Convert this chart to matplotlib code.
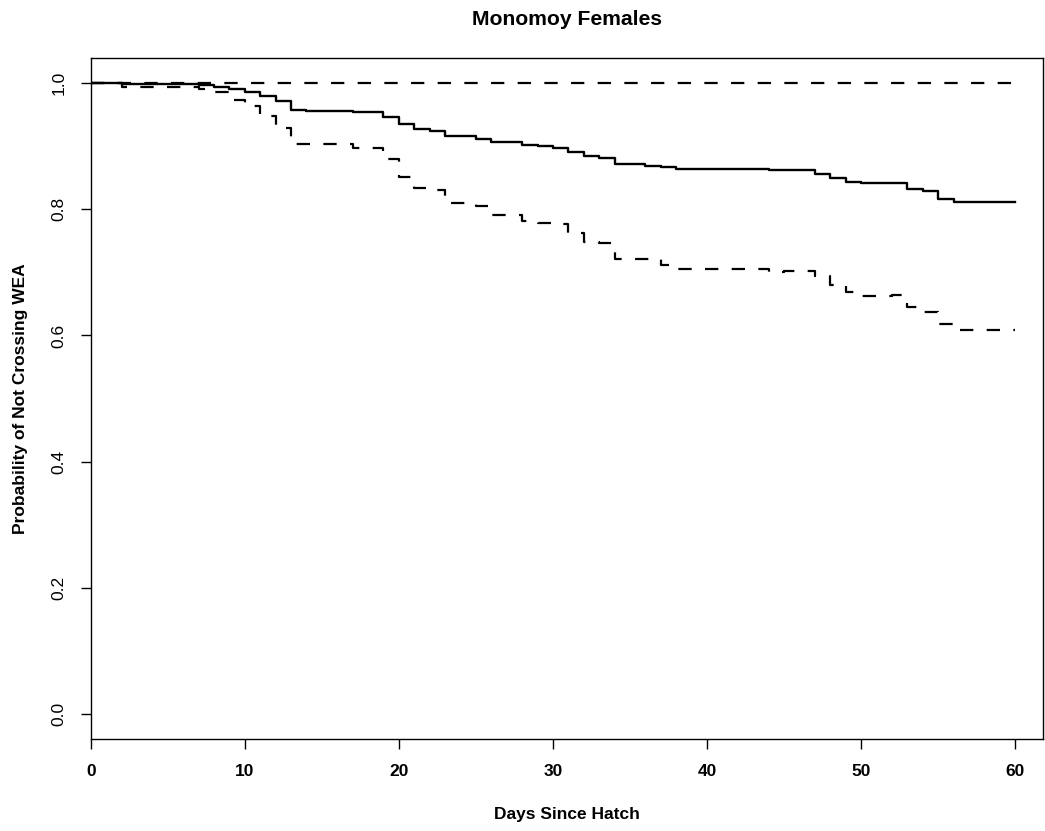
import matplotlib
matplotlib.use('Agg')
import matplotlib.pyplot as plt

# km estimate, Monomoy females
days = [0, 2, 7, 8, 9, 10, 11, 12, 13, 14, 17, 19, 20, 21, 22, 23, 25, 26, 28, 29,
        30, 31, 32, 33, 34, 36, 37, 38, 44, 45, 47, 48, 49, 50, 52, 53, 54, 55, 56, 60]
surv = [1.0, 0.9985, 0.997, 0.994, 0.991, 0.986, 0.980, 0.972, 0.958, 0.956, 0.9545, 0.9466,
        0.935, 0.927, 0.924, 0.916, 0.912, 0.906, 0.902, 0.900, 0.898, 0.891, 0.885, 0.882,
        0.8726, 0.8688, 0.8667, 0.8636, 0.862, 0.862, 0.8567, 0.8504, 0.844, 0.841, 0.841,
        0.833, 0.829, 0.817, 0.8117, 0.8117]
lower = [1.0, 0.994, 0.9916, 0.986, 0.974, 0.964, 0.948, 0.929, 0.9043, 0.903, 0.898, 0.8795,
         0.851, 0.8345, 0.8313, 0.810, 0.806, 0.7917, 0.7815, 0.779, 0.776, 0.763, 0.748,
         0.7466, 0.722, 0.7205, 0.711, 0.706, 0.7006, 0.7022, 0.694, 0.6806, 0.669, 0.6626,
         0.664, 0.645, 0.637, 0.618, 0.608, 0.608]
upper = [1.0] * len(days)

xticks = [0, 10, 20, 30, 40, 50, 60]
yticks = [0.0, 0.2, 0.4, 0.6, 0.8, 1.0]

plt.rcParams['font.family'] = ['Liberation Sans', 'DejaVu Sans']

fig = plt.figure(figsize=(10.45, 8.31), dpi=100)
ax = fig.add_axes([0.0868, 0.1107, 0.9112, 0.8195])

ax.step(days, surv, where='post', color='black', lw=1.7)
ax.step(days, lower, where='post', color='black', lw=1.6, ls=(0, (6, 6)))
ax.step(days, upper, where='post', color='black', lw=1.6, ls=(0, (6, 6)))

ax.set_xlim(0, 61.8)
ax.set_ylim(-0.04, 1.04)
ax.set_xticks(xticks)
ax.set_xticklabels([str(t) for t in xticks], fontweight='bold', fontsize=12.5)
ax.set_yticks(yticks)
ax.set_yticklabels(['%.1f' % t for t in yticks], rotation=90, va='center', fontsize=12.5)
ax.tick_params(axis='both', length=7.2, width=1, color='black')
ax.tick_params(axis='x', pad=11)
ax.tick_params(axis='y', pad=10)
for s in ax.spines.values():
    s.set_linewidth(1)

ax.set_title('Monomoy Females', fontweight='bold', fontsize=15.2, pad=24)
ax.set_xlabel('Days Since Hatch', fontweight='bold', fontsize=12.5, labelpad=20)
ax.set_ylabel('Probability of Not Crossing WEA', fontweight='bold', fontsize=12.5, labelpad=17)

fig.savefig('out.png', dpi=100)
